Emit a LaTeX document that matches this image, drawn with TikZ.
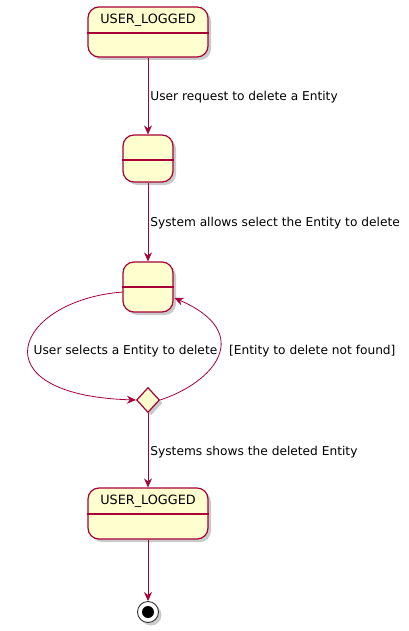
\documentclass[tikz,border=0pt]{standalone}
\usepackage{fontspec}
\setmainfont{DejaVu Sans}
\usetikzlibrary{shapes.geometric,arrows.meta,shadows}
\definecolor{stfill}{HTML}{FEFECE}
\definecolor{stline}{HTML}{A80036}
\begin{document}
\begin{tikzpicture}[x=1pt,y=-1pt,
  shad/.style={drop shadow={shadow xshift=3pt,shadow yshift=-3pt,opacity=0.35,fill=black!60}},
  state/.style={draw=stline,fill=stfill,line width=1.2pt,rounded corners=11pt,shad,inner sep=0pt},
  decision/.style={draw=stline,fill=stfill,line width=1.2pt,diamond,shad,inner sep=0pt,minimum width=23pt,minimum height=25pt},
  ttl/.style={font=\fontsize{12.8}{15}\selectfont,inner sep=0pt},
  lbl/.style={font=\fontsize{12.2}{14}\selectfont,inner sep=0pt},
  conn/.style={draw=stline,line width=0.8pt,-{Stealth[length=9pt,width=8pt,inset=3pt]}},
  divider/.style={draw=stline,line width=1.2pt}]
\useasboundingbox (0,0) rectangle (409,631);
% states
\node[state,minimum width=120pt,minimum height=50pt] (s1) at (148,32) {};
\draw[divider] (s1.west |- 0,33) -- (s1.east |- 0,33);
\node[ttl] (t1) at (148,20) {USER\_LOGGED};
\node[state,minimum width=50pt,minimum height=47pt] (s2) at (148,158.5) {};
\draw[divider] (s2.west |- 0,160) -- (s2.east |- 0,160);
\node[state,minimum width=50pt,minimum height=50pt] (s3) at (148,287) {};
\draw[divider] (s3.west |- 0,287) -- (s3.east |- 0,287);
\node[decision] (d) at (148,400) {};
\node[state,minimum width=120pt,minimum height=51pt] (s4) at (148,513.5) {};
\draw[divider] (s4.west |- 0,514) -- (s4.east |- 0,514);
\node[ttl] (t4) at (148,501.5) {USER\_LOGGED};
% final state
\node[circle,draw=black!80,fill=white,line width=0.9pt,minimum size=21pt,inner sep=0pt,shad] (f) at (148,612) {};
\node[circle,fill=black,minimum size=12pt,inner sep=0pt] (fi) at (f.center) {};
% connectors
\draw[conn] (s1.south) -- node[lbl,right,xshift=2pt,pos=0.52] (l1) {User request to delete a Entity} (s2.north);
\draw[conn] (s2.south) -- node[lbl,right,xshift=2pt,pos=0.52] (l2) {System allows select the Entity to delete} (s3.north);
\coordinate (a0) at (123,292);
\draw[conn] (a0) .. controls (15,300) and (-25,395) .. (d.west);
\node[lbl] (l3) at (125.5,351) {User selects a Entity to delete};
\coordinate (b1) at (174.5,298);
\draw[conn] (d.east) .. controls (215,382) and (255,333) .. (b1);
\node[lbl,anchor=west] (l4) at (229,351) {[Entity to delete not found]};
\draw[conn] (d.south) -- node[lbl,right,xshift=2pt,pos=0.52] (l5) {Systems shows the deleted Entity} (s4.north);
\draw[conn] (s4.south) -- (f.north);
\end{tikzpicture}
\end{document}
